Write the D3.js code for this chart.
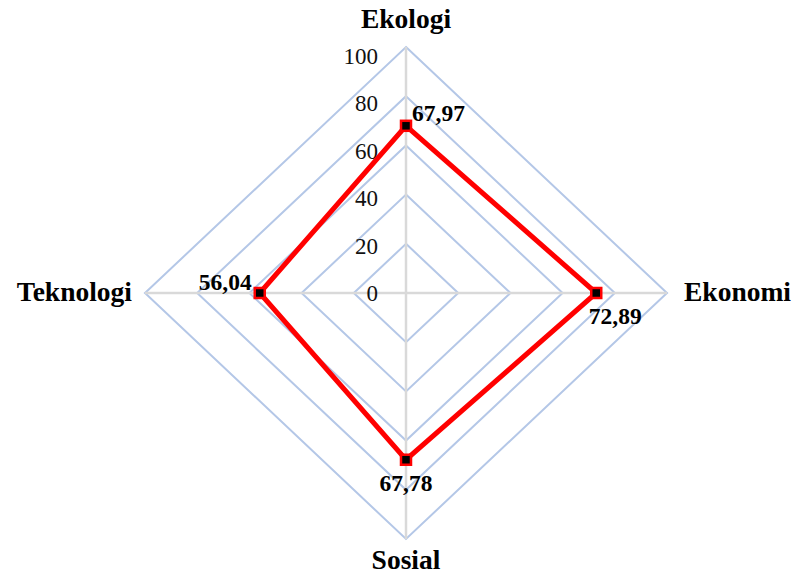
<!DOCTYPE html>
<html>
<head>
<meta charset="utf-8">
<script src="https://cdn.jsdelivr.net/npm/d3@7"></script>
<style>
  html, body { margin: 0; padding: 0; background: #ffffff; }
  svg { display: block; }
  text { font-family: "Liberation Serif", "Times New Roman", serif; }
</style>
</head>
<body>
<svg id="chart" width="793" height="576"></svg>
<script>
// Dimensions of sustainability and their scores
const categories = ["Ekologi", "Ekonomi", "Sosial", "Teknologi"];
const values = [67.97, 72.89, 67.78, 56.04];
const valueLabels = ["67,97", "72,89", "67,78", "56,04"];
const ticks = [0, 20, 40, 60, 80, 100];
const tickLabels = ["0", "20", "40", "60", "80", "100"];

const svg = d3.select("#chart");
const cx = 406, cy = 293;

// Slightly wider horizontally than vertically
const rX = d3.scaleLinear().domain([0, 100]).range([0, 261]);
const rY = d3.scaleLinear().domain([0, 100]).range([0, 246]);
// Axis numbers sit on their own, slightly tighter spacing
const tickY = d3.scaleLinear().domain([0, 100]).range([cy, cy - 237]);

const angle = d3.scalePoint().domain(categories).range([0, 2 * Math.PI * 3 / 4]);

function pt(cat, v) {
  const a = angle(cat);
  return [cx + Math.sin(a) * rX(v), cy - Math.cos(a) * rY(v)];
}

// Gridline rings
const ringLine = d3.line().curve(d3.curveLinearClosed);
svg.append("g")
  .selectAll("path")
  .data(ticks.filter(t => t > 0))
  .join("path")
  .attr("d", t => ringLine(categories.map(c => pt(c, t))))
  .attr("fill", "none")
  .attr("stroke", "#b4c7e7")
  .attr("stroke-width", 2);

// Spokes
svg.append("g")
  .selectAll("line")
  .data(categories)
  .join("line")
  .attr("x1", c => pt(c, 0)[0])
  .attr("y1", c => pt(c, 0)[1])
  .attr("x2", c => pt(c, 100)[0])
  .attr("y2", c => pt(c, 100)[1])
  .attr("stroke", "#d9d9d9")
  .attr("stroke-width", 2.5);

// Axis numbers
svg.append("g")
  .selectAll("text")
  .data(ticks)
  .join("text")
  .attr("x", cx - 28)
  .attr("y", t => tickY(t))
  .attr("dy", "0.35em")
  .attr("text-anchor", "end")
  .attr("font-size", 23)
  .attr("fill", "#111111")
  .text((t, i) => tickLabels[i]);

// Series polygon
svg.append("path")
  .attr("d", ringLine(categories.map((c, i) => pt(c, values[i]))))
  .attr("fill", "none")
  .attr("stroke", "#ff0000")
  .attr("stroke-width", 5)
  .attr("stroke-linejoin", "miter");

// Markers
const ms = 10;
svg.append("g")
  .selectAll("rect")
  .data(categories)
  .join("rect")
  .attr("x", (c, i) => pt(c, values[i])[0] - ms / 2)
  .attr("y", (c, i) => pt(c, values[i])[1] - ms / 2)
  .attr("width", ms)
  .attr("height", ms)
  .attr("fill", "#000000")
  .attr("stroke", "#ff0000")
  .attr("stroke-width", 2.5);

// Value labels, offset from each marker
const labelOffsets = [
  { dx: 6, dy: -5, anchor: "start" },
  { dx: 19, dy: 31, anchor: "middle" },
  { dx: 0, dy: 31, anchor: "middle" },
  { dx: -8, dy: -3, anchor: "end" }
];
svg.append("g")
  .selectAll("text")
  .data(categories)
  .join("text")
  .attr("x", (c, i) => pt(c, values[i])[0] + labelOffsets[i].dx)
  .attr("y", (c, i) => pt(c, values[i])[1] + labelOffsets[i].dy)
  .attr("text-anchor", (c, i) => labelOffsets[i].anchor)
  .attr("font-size", 23.5)
  .attr("font-weight", "bold")
  .attr("fill", "#000000")
  .text((c, i) => valueLabels[i]);

// Category names
const catPos = [
  { dx: 0, dy: -19, anchor: "middle" },
  { dx: 17, dy: 8, anchor: "start" },
  { dx: 0, dy: 30, anchor: "middle" },
  { dx: -13, dy: 8, anchor: "end" }
];
svg.append("g")
  .selectAll("text")
  .data(categories)
  .join("text")
  .attr("x", (c, i) => pt(c, 100)[0] + catPos[i].dx)
  .attr("y", (c, i) => pt(c, 100)[1] + catPos[i].dy)
  .attr("text-anchor", (c, i) => catPos[i].anchor)
  .attr("font-size", 27.5)
  .attr("font-weight", "bold")
  .attr("fill", "#000000")
  .text(c => c);
</script>
</body>
</html>
